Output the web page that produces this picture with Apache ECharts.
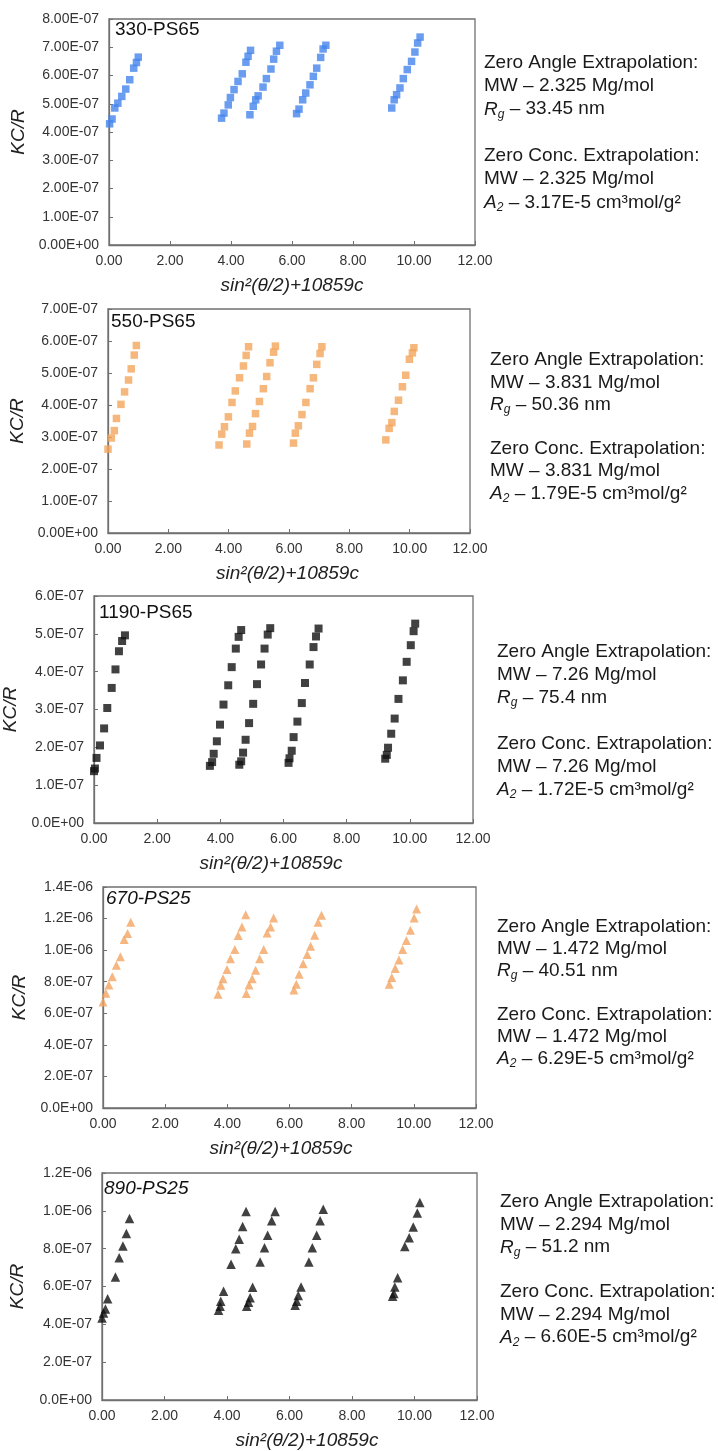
<!DOCTYPE html>
<html>
<head>
<meta charset="utf-8">
<script src="https://cdn.jsdelivr.net/npm/echarts/dist/echarts.min.js"></script>
<style>
  html, body { margin: 0; padding: 0; background: #fff; }
  #chart { width: 718px; height: 1451px; }
</style>
</head>
<body>
<div id="chart"></div>
<script>
// Zimm-plot data: sin^2(theta/2)+10859c (x) against KC/R (y), one array pair per sample.
const x330 = [0.02,0.10,0.19,0.29,0.42,0.55,0.68,0.81,0.90,0.96,
              3.69,3.77,3.91,3.98,4.10,4.23,4.37,4.49,4.56,4.64,
              4.62,4.73,4.81,4.89,5.05,5.16,5.31,5.40,5.49,5.60,
              6.15,6.23,6.35,6.45,6.59,6.70,6.81,6.94,7.02,7.11,
              9.27,9.35,9.43,9.54,9.65,9.78,9.92,10.03,10.12,10.20];
const y330 = [4.29e-7,4.46e-7,4.85e-7,5.02e-7,5.26e-7,5.52e-7,5.85e-7,6.26e-7,6.46e-7,6.65e-7,
              4.49e-7,4.67e-7,4.96e-7,5.22e-7,5.50e-7,5.79e-7,6.06e-7,6.47e-7,6.68e-7,6.89e-7,
              4.61e-7,4.91e-7,5.14e-7,5.28e-7,5.59e-7,5.89e-7,6.23e-7,6.58e-7,6.86e-7,7.07e-7,
              4.65e-7,4.81e-7,5.14e-7,5.38e-7,5.67e-7,5.97e-7,6.26e-7,6.64e-7,6.94e-7,7.07e-7,
              4.85e-7,5.14e-7,5.32e-7,5.56e-7,5.89e-7,6.21e-7,6.50e-7,6.83e-7,7.15e-7,7.36e-7];

const x550 = [0.00,0.11,0.21,0.28,0.43,0.55,0.68,0.77,0.87,0.94,
              3.68,3.77,3.86,3.99,4.11,4.22,4.36,4.49,4.58,4.66,
              4.60,4.69,4.79,4.89,5.02,5.15,5.26,5.37,5.49,5.55,
              6.15,6.21,6.31,6.43,6.56,6.70,6.81,6.92,7.03,7.09,
              9.21,9.32,9.41,9.49,9.63,9.76,9.87,9.99,10.09,10.14];
const y550 = [2.62e-7,2.97e-7,3.20e-7,3.58e-7,4.02e-7,4.41e-7,4.78e-7,5.13e-7,5.56e-7,5.86e-7,
              2.75e-7,3.09e-7,3.32e-7,3.63e-7,4.08e-7,4.44e-7,4.85e-7,5.22e-7,5.55e-7,5.82e-7,
              2.78e-7,3.12e-7,3.33e-7,3.73e-7,4.11e-7,4.51e-7,4.89e-7,5.32e-7,5.65e-7,5.84e-7,
              2.81e-7,3.12e-7,3.35e-7,3.70e-7,4.08e-7,4.51e-7,4.85e-7,5.27e-7,5.61e-7,5.82e-7,
              2.91e-7,3.27e-7,3.45e-7,3.80e-7,4.15e-7,4.57e-7,4.93e-7,5.43e-7,5.63e-7,5.79e-7];

const x1190 = [0.00,0.03,0.08,0.19,0.32,0.42,0.56,0.68,0.79,0.89,0.98,
               3.67,3.74,3.79,3.89,3.99,4.10,4.25,4.36,4.49,4.58,4.66,
               4.60,4.66,4.72,4.80,4.91,5.04,5.16,5.29,5.40,5.50,5.58,
               6.16,6.19,6.26,6.32,6.44,6.58,6.68,6.83,6.95,7.03,7.11,
               9.22,9.27,9.31,9.41,9.52,9.64,9.78,9.90,10.03,10.12,10.17];
const y1190 = [1.37e-7,1.44e-7,1.72e-7,2.05e-7,2.50e-7,3.04e-7,3.57e-7,4.06e-7,4.54e-7,4.81e-7,4.96e-7,
               1.51e-7,1.61e-7,1.83e-7,2.16e-7,2.60e-7,3.13e-7,3.64e-7,4.12e-7,4.61e-7,4.92e-7,5.10e-7,
               1.54e-7,1.63e-7,1.86e-7,2.20e-7,2.64e-7,3.15e-7,3.67e-7,4.19e-7,4.61e-7,4.98e-7,5.15e-7,
               1.59e-7,1.71e-7,1.91e-7,2.27e-7,2.68e-7,3.17e-7,3.70e-7,4.19e-7,4.65e-7,4.93e-7,5.14e-7,
               1.70e-7,1.80e-7,1.99e-7,2.36e-7,2.76e-7,3.28e-7,3.77e-7,4.26e-7,4.70e-7,5.07e-7,5.27e-7];

const x670 = [0.00,0.09,0.19,0.30,0.43,0.56,0.68,0.79,0.89,
              3.70,3.79,3.86,3.99,4.10,4.24,4.35,4.47,4.59,
              4.61,4.70,4.80,4.91,5.04,5.17,5.28,5.39,5.49,
              6.14,6.22,6.31,6.44,6.57,6.68,6.81,6.92,7.03,
              9.21,9.29,9.40,9.52,9.64,9.76,9.89,10.01,10.09];
const y670 = [6.72e-7,7.27e-7,7.79e-7,8.32e-7,9.05e-7,9.58e-7,10.67e-7,11.05e-7,11.76e-7,
              7.21e-7,7.77e-7,8.19e-7,8.78e-7,9.45e-7,10.04e-7,10.92e-7,11.47e-7,12.25e-7,
              7.25e-7,7.79e-7,8.19e-7,8.72e-7,9.45e-7,10.04e-7,11.09e-7,11.47e-7,12.04e-7,
              7.48e-7,7.84e-7,8.47e-7,9.14e-7,9.73e-7,10.25e-7,10.95e-7,11.76e-7,12.21e-7,
              7.84e-7,8.26e-7,8.84e-7,9.37e-7,10.04e-7,10.61e-7,11.26e-7,12.04e-7,12.61e-7];

const x890 = [0.00,0.05,0.11,0.18,0.43,0.55,0.67,0.78,0.88,
              3.73,3.78,3.80,3.89,4.13,4.28,4.39,4.50,4.61,
              4.63,4.69,4.74,4.82,5.06,5.20,5.30,5.43,5.54,
              6.18,6.23,6.28,6.37,6.62,6.73,6.87,6.98,7.08,
              9.30,9.34,9.37,9.46,9.69,9.83,9.96,10.09,10.17];
const y890 = [4.34e-7,4.60e-7,4.81e-7,5.35e-7,6.50e-7,7.52e-7,8.14e-7,8.80e-7,9.59e-7,
              4.74e-7,4.96e-7,5.22e-7,5.75e-7,7.17e-7,8.00e-7,8.50e-7,9.17e-7,9.96e-7,
              4.96e-7,5.17e-7,5.40e-7,5.96e-7,7.29e-7,8.05e-7,8.71e-7,9.47e-7,9.96e-7,
              5.01e-7,5.22e-7,5.52e-7,5.98e-7,7.29e-7,8.05e-7,8.71e-7,9.47e-7,10.09e-7,
              5.49e-7,5.63e-7,5.98e-7,6.46e-7,8.11e-7,8.58e-7,9.15e-7,9.88e-7,10.44e-7];

// Sample labels and fitted results written beside each panel.
const sampleNames = ['330-PS65', '550-PS65', '1190-PS65', '670-PS25', '890-PS25'];
const mwValues = ['2.325', '3.831', '7.26', '1.472', '2.294'];
const rgValues = ['33.45', '50.36', '75.4', '40.51', '51.2'];
const a2Values = ['3.17E-5', '1.79E-5', '1.72E-5', '6.29E-5', '6.60E-5'];

// Axis ranges
const xTicks = { min: 0, max: 12, interval: 2 };
const yMax = [8e-7, 7e-7, 6e-7, 1.4e-6, 1.2e-6];
const yStep = [1e-7, 1e-7, 1e-7, 2e-7, 2e-7];
const yDigits = [2, 2, 1, 1, 1];

const xs = [x330, x550, x1190, x670, x890];
const ys = [y330, y550, y1190, y670, y890];

// Panel layout and marker styles
const FONT = '"Liberation Sans", Arial, Helvetica, sans-serif';
const AXIS = '#707070';
const layout = [
  { grid: [109, 19, 366, 226],  yGap: 70, xPad: 0,   tag: [115, 20, false],  note: [484, 51, 23.3],
    symbol: 'rect', size: 7.5, color: '#4585ec' },
  { grid: [108, 309, 362, 224], yGap: 71, xPad: -3,  tag: [111, 312, false], note: [490, 349, 22.2],
    symbol: 'rect', size: 7.5, color: '#f3a55a' },
  { grid: [94, 596, 379, 227],  yGap: 60, xPad: -25, tag: [99, 603, false],  note: [497, 640, 23],
    symbol: 'rect', size: 8, color: '#111111' },
  { grid: [103, 887, 373, 221], yGap: 71, xPad: -17, tag: [106, 889, true],  note: [497, 916, 22],
    symbol: 'triangle', size: 9, color: '#f3a462' },
  { grid: [102, 1173, 375, 227], yGap: 75, xPad: 35, tag: [104, 1179, true], note: [500, 1191, 22.5],
    symbol: 'triangle', size: 9.5, color: '#111111' }
];

function sci(v, d) {
  const parts = v.toExponential(d).split('e');
  const e = parseInt(parts[1], 10);
  const a = Math.abs(e);
  return parts[0] + 'E' + (e < 0 ? '-' : '+') + (a < 10 ? '0' : '') + a;
}

const grids = [], xAxes = [], yAxes = [], series = [], titles = [];

layout.forEach((p, i) => {
  grids.push({
    left: p.grid[0], top: p.grid[1], width: p.grid[2], height: p.grid[3],
    show: true, borderColor: AXIS, borderWidth: 1.3, backgroundColor: 'transparent',
    containLabel: false, outerBoundsMode: 'none'
  });
  xAxes.push({
    gridIndex: i, type: 'value', min: xTicks.min, max: xTicks.max, interval: xTicks.interval,
    axisLine: { show: true, onZero: false, lineStyle: { color: AXIS, width: 1.3 } },
    axisTick: { show: true, inside: true, length: 4, lineStyle: { color: AXIS } },
    axisLabel: { formatter: v => v.toFixed(2), fontSize: 14, color: '#333', margin: 9, fontFamily: FONT },
    splitLine: { show: false },
    name: 'sin²(θ/2)+10859c', nameLocation: 'middle', nameGap: 31,
    nameTextStyle: {
      fontStyle: 'italic', fontSize: 19, color: '#222', fontFamily: FONT,
      padding: p.xPad >= 0 ? [0, 0, 0, p.xPad] : [0, -p.xPad, 0, 0]
    }
  });
  yAxes.push({
    gridIndex: i, type: 'value', min: 0, max: yMax[i], interval: yStep[i],
    axisLine: { show: true, onZero: false, lineStyle: { color: AXIS, width: 1.3 } },
    axisTick: { show: true, inside: true, length: 4, lineStyle: { color: AXIS } },
    axisLabel: { formatter: v => sci(v, yDigits[i]), fontSize: 14, color: '#333', margin: 10, fontFamily: FONT },
    splitLine: { show: false },
    name: 'KC/R', nameLocation: 'middle', nameGap: p.yGap,
    nameTextStyle: { fontStyle: 'italic', fontSize: 19, color: '#222', fontFamily: FONT }
  });
  series.push({
    type: 'scatter', xAxisIndex: i, yAxisIndex: i,
    data: xs[i].map((x, k) => [x, ys[i][k]]),
    symbol: p.symbol, symbolSize: p.size,
    itemStyle: { color: p.color },
    emphasis: { disabled: true }, silent: true
  });
  // sample name inside the plot, upper left
  titles.push({
    text: sampleNames[i], left: p.tag[0], top: p.tag[1], padding: 0,
    textStyle: { fontSize: 19, fontWeight: 'normal', fontStyle: p.tag[2] ? 'italic' : 'normal',
                 color: '#111', fontFamily: FONT }
  });
  // extrapolation results to the right of the plot
  titles.push({
    left: p.note[0], top: p.note[1], padding: 0,
    text: [
      'Zero Angle Extrapolation:',
      'MW – ' + mwValues[i] + ' Mg/mol',
      '{it|R}{sub|g} – ' + rgValues[i] + ' nm',
      '',
      'Zero Conc. Extrapolation:',
      'MW – ' + mwValues[i] + ' Mg/mol',
      '{it|A}{sub|2} – ' + a2Values[i] + ' cm³mol/g²'
    ].join('\n'),
    textStyle: {
      fontSize: 19, fontWeight: 'normal', color: '#1a1a1a', fontFamily: FONT, lineHeight: p.note[2],
      rich: {
        it: { fontSize: 19, fontStyle: 'italic', color: '#1a1a1a', fontFamily: FONT, lineHeight: p.note[2] },
        sub: { fontSize: 12, fontStyle: 'italic', color: '#1a1a1a', fontFamily: FONT,
               lineHeight: 13, verticalAlign: 'bottom' }
      }
    }
  });
});

const chart = echarts.init(document.getElementById('chart'), null, { renderer: 'canvas' });
chart.setOption({
  animation: false,
  backgroundColor: '#ffffff',
  textStyle: { fontFamily: FONT },
  title: titles,
  grid: grids,
  xAxis: xAxes,
  yAxis: yAxes,
  series: series
});
</script>
</body>
</html>
